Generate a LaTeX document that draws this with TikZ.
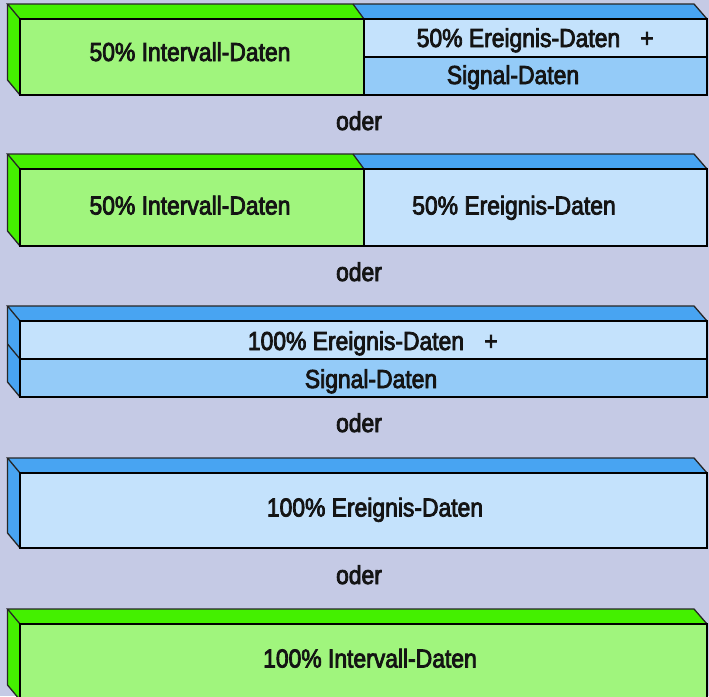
\documentclass[tikz,border=0pt]{standalone}
\usepackage{fontspec}
\newfontfamily\lbfont[FakeStretch=0.88,FakeBold=3]{Liberation Sans}
\definecolor{bg}{RGB}{197,202,229}
\definecolor{gdark}{RGB}{68,240,0}
\definecolor{glight}{RGB}{160,245,125}
\definecolor{bdark}{RGB}{72,164,242}
\definecolor{blight}{RGB}{196,226,252}
\definecolor{bmid}{RGB}{148,203,248}
\tikzset{
  thick edge/.style={draw=black, line width=2.4pt, line join=miter},
  thin edge/.style={draw=black!85, line width=1.3pt, line join=miter},
  lbl/.style={font=\lbfont\fontsize{26}{30}\selectfont, anchor=base, inner sep=0pt, text=black!92},
}
\begin{document}
\begin{tikzpicture}[x=1pt,y=-1pt]
\useasboundingbox (0,0) rectangle (709,696);
\fill[bg] (0,0) rectangle (709,696);

% ---------- Box 1 ----------
\fill[gdark] (20,19) -- (7.5,4) -- (353,4) -- (364,19) -- cycle;
\fill[bdark] (364,19) -- (353,4) -- (694,4) -- (707,19) -- cycle;
\fill[gdark] (20,19) -- (7.5,4) -- (7.5,80) -- (20,95) -- cycle;
\fill[glight] (20,19) rectangle (364,95);
\fill[blight] (364,19) rectangle (707,57);
\fill[bmid] (364,57) rectangle (707,95);
\draw[thin edge] (20,19) -- (7.5,4) -- (694,4) -- (707,19);
\draw[thin edge] (7.5,4) -- (7.5,80) -- (20,95);
\draw[thin edge] (353,4) -- (364,19);
\draw[thick edge] (20,19) rectangle (707,95);
\draw[thick edge] (364,19) -- (364,95);
\draw[thick edge] (364,57) -- (707,57);
\node[lbl] (t1a) at (190,61) {50\% Intervall-Daten};
\node[lbl] (t1b) at (518.5,47) {50\% Ereignis-Daten};
\node[lbl] (p1) at (647,47) {+};
\node[lbl] (t1c) at (513,84) {Signal-Daten};

\node[lbl] (o1) at (359,130) {oder};

% ---------- Box 2 ----------
\fill[gdark] (20,169) -- (7.5,154) -- (353,154) -- (364,169) -- cycle;
\fill[bdark] (364,169) -- (353,154) -- (694,154) -- (707,169) -- cycle;
\fill[gdark] (20,169) -- (7.5,154) -- (7.5,231) -- (20,246) -- cycle;
\fill[glight] (20,169) rectangle (364,246);
\fill[blight] (364,169) rectangle (707,246);
\draw[thin edge] (20,169) -- (7.5,154) -- (694,154) -- (707,169);
\draw[thin edge] (7.5,154) -- (7.5,231) -- (20,246);
\draw[thin edge] (353,154) -- (364,169);
\draw[thick edge] (20,169) rectangle (707,246);
\draw[thick edge] (364,169) -- (364,246);
\node[lbl] (t2a) at (190,214.5) {50\% Intervall-Daten};
\node[lbl] (t2b) at (514,214.5) {50\% Ereignis-Daten};

\node[lbl] (o2) at (359,281) {oder};

% ---------- Box 3 ----------
\fill[bdark] (20,321) -- (7.5,306) -- (694,306) -- (707,321) -- cycle;
\fill[bdark] (20,321) -- (7.5,306) -- (7.5,382) -- (20,397) -- cycle;
\fill[blight] (20,321) rectangle (707,359);
\fill[bmid] (20,359) rectangle (707,397);
\draw[thin edge] (20,321) -- (7.5,306) -- (694,306) -- (707,321);
\draw[thin edge] (7.5,306) -- (7.5,382) -- (20,397);
\draw[thin edge] (7.5,344) -- (20,359);
\draw[thick edge] (20,321) rectangle (707,397);
\draw[thick edge] (20,359) -- (707,359);
\node[lbl] (t3a) at (356,350) {100\% Ereignis-Daten};
\node[lbl] (p3) at (491,350) {+};
\node[lbl] (t3b) at (371,388) {Signal-Daten};

\node[lbl] (o3) at (359,432) {oder};

% ---------- Box 4 ----------
\fill[bdark] (20,473) -- (7.5,458) -- (694,458) -- (707,473) -- cycle;
\fill[bdark] (20,473) -- (7.5,458) -- (7.5,533) -- (20,548) -- cycle;
\fill[blight] (20,473) rectangle (707,548);
\draw[thin edge] (20,473) -- (7.5,458) -- (694,458) -- (707,473);
\draw[thin edge] (7.5,458) -- (7.5,533) -- (20,548);
\draw[thick edge] (20,473) rectangle (707,548);
\node[lbl] (t4) at (375,516.5) {100\% Ereignis-Daten};

\node[lbl] (o4) at (359,584) {oder};

% ---------- Box 5 ----------
\fill[gdark] (20,624) -- (7.5,609) -- (694,609) -- (707,624) -- cycle;
\fill[gdark] (20,624) -- (7.5,609) -- (7.5,685) -- (20,700) -- cycle;
\fill[glight] (20,624) rectangle (707,700);
\draw[thin edge] (20,624) -- (7.5,609) -- (694,609) -- (707,624);
\draw[thin edge] (7.5,609) -- (7.5,685) -- (20,700);
\draw[thick edge] (20,624) rectangle (707,700);
\node[lbl] (t5) at (370,667.5) {100\% Intervall-Daten};
\end{tikzpicture}
\end{document}
